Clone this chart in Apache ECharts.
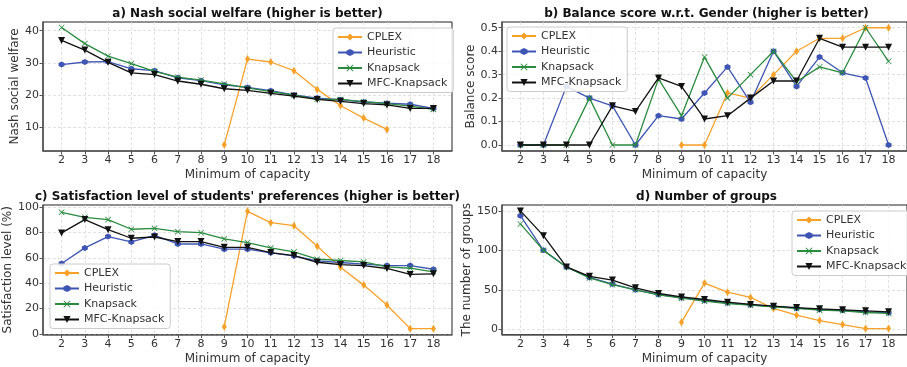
<!DOCTYPE html>
<html><head><meta charset="utf-8">
<script src="https://cdn.jsdelivr.net/npm/echarts@6/dist/echarts.min.js"></script>
<style>html,body{margin:0;padding:0;background:#fff}#c{width:907px;height:367px}</style>
</head><body><div id="c"></div>
<script>
const capacities = [2,3,4,5,6,7,8,9,10,11,12,13,14,15,16,17,18];
const seriesNames = ['CPLEX','Heuristic','Knapsack','MFC-Knapsack'];

// a) Nash social welfare
const nashCPLEX     = [null,null,null,null,null,null,null,4.6,31.2,30.3,27.6,21.8,16.8,12.9,9.4,null,null];
const nashHeuristic = [29.5,30.3,30.4,28.2,27.6,25.4,24.5,23.2,22.4,21.4,20.1,19.1,18.6,17.9,17.5,17.2,15.9];
const nashKnapsack  = [41.0,36.0,32.1,29.8,27.4,25.6,24.7,23.5,22.3,21.1,20.0,18.8,18.7,18.0,17.4,16.6,15.6];
const nashMFC       = [37.0,34.0,30.2,26.9,26.4,24.4,23.4,22.0,21.5,20.6,19.7,18.7,18.1,17.4,17.0,15.9,15.9];

// b) Balance score w.r.t. Gender
const balCPLEX     = [null,null,null,null,null,null,null,0,0,0.222,0.2,0.3,0.4,0.455,0.455,0.5,0.5];
const balHeuristic = [0,0,0.25,0.2,0.167,0,0.125,0.111,0.222,0.333,0.182,0.4,0.25,0.375,0.308,0.286,0];
const balKnapsack  = [0,0,0,0.2,0,0,0.282,0.125,0.375,0.2,0.3,0.4,0.27,0.333,0.308,0.5,0.357];
const balMFC       = [0,0,0,0,0.167,0.143,0.286,0.25,0.111,0.125,0.2,0.273,0.273,0.455,0.417,0.417,0.417];

// c) Satisfaction level (%)
const satCPLEX     = [null,null,null,null,null,null,null,5.8,96.6,87.7,85.3,69.1,52.6,38.5,22.8,4.2,4.2];
const satHeuristic = [55.5,67.8,76.7,72.5,77.7,70.9,70.9,66.8,66.8,63.9,61.5,57.6,56.3,55.0,53.9,53.9,51.0];
const satKnapsack  = [95.8,91.9,90.1,82.5,83.2,80.6,79.8,74.9,72.0,67.8,64.7,58.9,57.9,56.8,52.9,51.8,49.0];
const satMFC       = [79.6,90.1,82.2,75.4,76.4,72.8,72.8,68.3,68.3,64.1,61.8,56.5,54.7,53.9,51.6,46.9,47.4];

// d) Number of groups
const grpCPLEX     = [null,null,null,null,null,null,null,8.9,58.5,47,40.3,26.3,17.8,11,5.9,0.8,0.8];
const grpHeuristic = [144,100,79,65.7,57.2,50,44,40,36.4,33.5,31,28.8,26.7,25,24,22,21];
const grpKnapsack  = [133.5,100,79,65,56.4,50,43.6,39.4,35.6,32.6,30.5,28.4,26.3,24.2,23.3,21.2,20];
const grpMFC       = [150,118.6,79,67,62.3,52.5,45.3,41,37.7,34.3,31.4,29.2,27.5,25.8,24.6,23.3,22];

const nashTicks = [10,20,30,40];
const balTicks = [0,0.1,0.2,0.3,0.4,0.5];
const satTicks = [0,20,40,60,80,100];
const grpTicks = [0,50,100,150];

const FONT = 'DejaVu Sans';
const colors = ['#f7a12b','#3f55b4','#2a8a3e','#111111'];
const symbols = [
  'diamond',
  'path://M0,-1 L0.866,-0.5 L0.866,0.5 L0,1 L-0.866,0.5 L-0.866,-0.5 Z',
  'path://M-1,-0.82 L-0.82,-1 L0,-0.18 L0.82,-1 L1,-0.82 L0.18,0 L1,0.82 L0.82,1 L0,0.18 L-0.82,1 L-1,0.82 L-0.18,0 Z',
  'path://M-1,-0.85 L1,-0.85 L0,1 Z'
];
const symSizes = [[5,8],6,6,7];

const grids = [
  {left:43, top:22, width:409, height:129},
  {left:502, top:22, width:409, height:129},
  {left:43, top:205, width:409, height:129.5},
  {left:502, top:205, width:409, height:129.5}
];
const gridDefs = grids.map(g => Object.assign({show:true, borderColor:'#222', borderWidth:1, backgroundColor:'transparent'}, g));

const splitStyle = {show:true, lineStyle:{color:'#d9d9d9', type:[3,2], width:0.8}};

function xAxisDef(i){
  return {
    type:'value', gridIndex:i, min:1.2, max:18.8,
    name:'Minimum of capacity', nameLocation:'middle', nameGap:18,
    nameTextStyle:{fontFamily:FONT, fontSize:12, color:'#333'},
    axisLine:{show:true, onZero:false, lineStyle:{color:'#555', width:1.5}},
    axisTick:{show:true, length:3.5, customValues:capacities, lineStyle:{color:'#555'}},
    axisLabel:{customValues:capacities, fontFamily:FONT, fontSize:11, color:'#333', margin:4},
    splitLine:splitStyle
  };
}
function yAxisDef(i, min, max, ticks, name, gap, fmt){
  return {
    type:'value', gridIndex:i, min:min, max:max,
    name:name, nameLocation:'middle', nameGap:gap,
    nameTextStyle:{fontFamily:FONT, fontSize:12, color:'#333'},
    axisLine:{show:true, onZero:false, lineStyle:{color:'#555', width:1.5}},
    axisTick:{show:true, length:3.5, customValues:ticks, lineStyle:{color:'#555'}},
    axisLabel:{customValues:ticks, fontFamily:FONT, fontSize:11, color:'#333', margin:4, formatter:fmt},
    splitLine:splitStyle
  };
}

const panelData = [
  [nashCPLEX, nashHeuristic, nashKnapsack, nashMFC],
  [balCPLEX, balHeuristic, balKnapsack, balMFC],
  [satCPLEX, satHeuristic, satKnapsack, satMFC],
  [grpCPLEX, grpHeuristic, grpKnapsack, grpMFC]
];

const series = [];
panelData.forEach((arrs, p) => {
  arrs.forEach((vals, k) => {
    series.push({
      type:'line', name:seriesNames[k], xAxisIndex:p, yAxisIndex:p,
      data: capacities.map((x, j) => vals[j] == null ? [x, null] : [x, vals[j]]),
      connectNulls:false,
      symbol:symbols[k], symbolSize:symSizes[k], showSymbol:true, showAllSymbol:true,
      lineStyle:{color:colors[k], width:1.3},
      itemStyle:{color:colors[k]},
      z: 2 + k,
      animation:false, silent:true
    });
  });
});

const legendBase = {
  data: seriesNames, orient:'vertical',
  backgroundColor:'rgba(255,255,255,0.85)', borderColor:'#cccccc', borderWidth:1, borderRadius:3,
  padding:[3,6,3,4], itemGap:3.5, itemWidth:24, itemHeight:9,
  textStyle:{fontFamily:FONT, fontSize:11, color:'#333', lineHeight:12},
  selectedMode:false
};
const legends = [
  Object.assign({left:333, top:28}, legendBase),
  Object.assign({left:507, top:27}, legendBase),
  Object.assign({left:50, top:264}, legendBase),
  Object.assign({left:792, top:211}, legendBase)
];

const titles = [
  {text:'a) Nash social welfare (higher is better)', x:247.5, y:14},
  {text:'b) Balance score w.r.t. Gender (higher is better)', x:706.5, y:14},
  {text:"c) Satisfaction level of students' preferences (higher is better)", x:247.5, y:197},
  {text:'d) Number of groups', x:706.5, y:197}
];

const option = {
  animation:false,
  backgroundColor:'#fff',
  grid: gridDefs,
  xAxis: [0,1,2,3].map(xAxisDef),
  yAxis: [
    yAxisDef(0, 2.7, 42.7, nashTicks, 'Nash social welfare', 20),
    yAxisDef(1, -0.0255, 0.5245, balTicks, 'Balance score', 25, v => v.toFixed(1)),
    yAxisDef(2, -0.4, 101.6, satTicks, 'Satisfaction level (%)', 25),
    yAxisDef(3, -6.7, 157.5, grpTicks, 'The number of groups', 26)
  ],
  legend: legends,
  graphic: titles.map(t => ({
    type:'text', x:t.x, y:t.y, silent:true,
    style:{text:t.text, fontFamily:FONT, fontSize:12, fontWeight:'bold', fill:'#111', align:'center', verticalAlign:'middle'}
  })),
  series: series
};

const chart = echarts.init(document.getElementById('c'), null, {renderer:'canvas'});
chart.setOption(option);
</script>
</body></html>
